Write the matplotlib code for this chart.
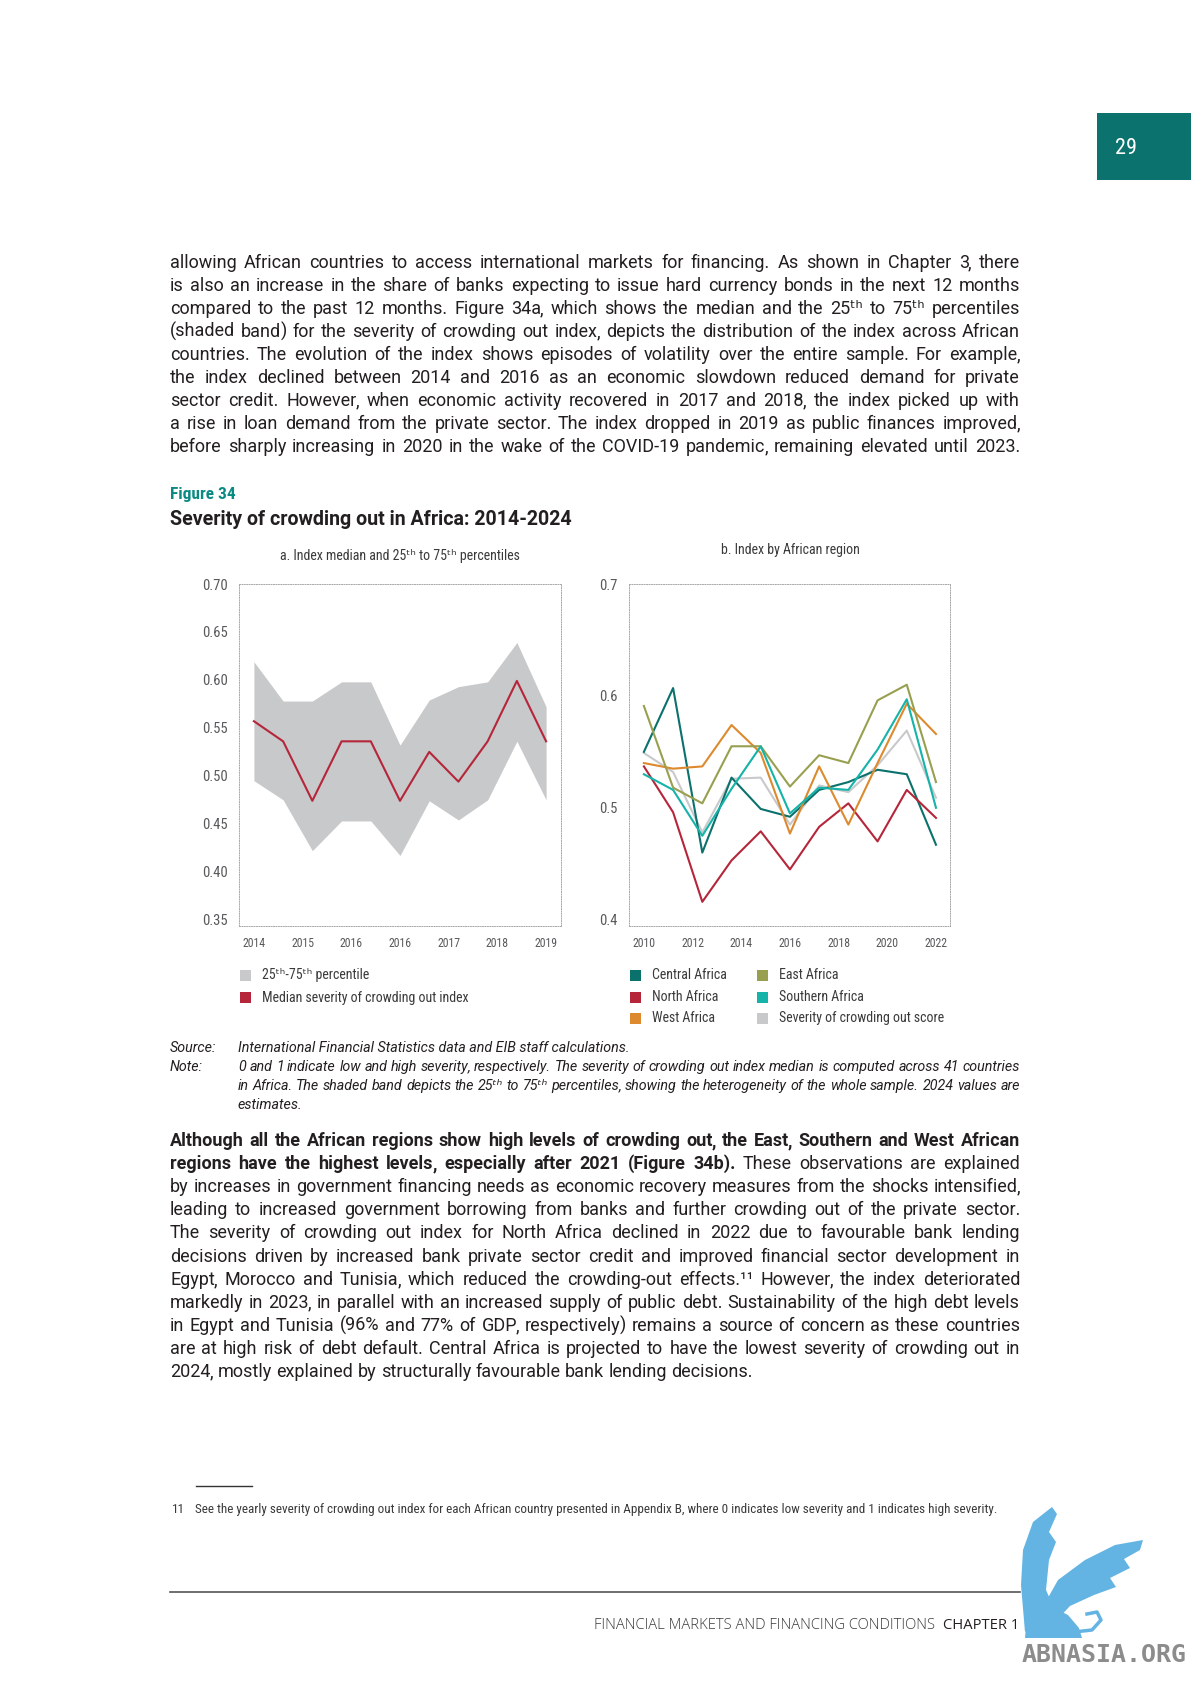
import matplotlib
matplotlib.use("Agg")
import matplotlib.pyplot as plt
from matplotlib import font_manager
from matplotlib.patches import Rectangle, Polygon
from matplotlib.lines import Line2D
import numpy as np

W, H = 1191, 1684

# ---- data, panel a (2014-2024, 11 yearly points) ----
pos_a = np.arange(11)
median = [0.557, 0.536, 0.474, 0.536, 0.536, 0.474, 0.525, 0.494, 0.536, 0.599, 0.536]
p75 = [0.619, 0.578, 0.578, 0.598, 0.598, 0.532, 0.579, 0.593, 0.598, 0.639, 0.572]
p25 = [0.495, 0.475, 0.422, 0.453, 0.453, 0.417, 0.474, 0.454, 0.475, 0.536, 0.475]
xlabels_a = ["2014", "2015", "2016", "2016", "2017", "2018", "2019"]
yticks_a = [0.35, 0.40, 0.45, 0.50, 0.55, 0.60, 0.65, 0.70]

# ---- data, panel b ----
pos_b = np.arange(11)
central = [0.550, 0.607, 0.460, 0.527, 0.499, 0.492, 0.516, 0.523, 0.534, 0.530, 0.467]
north = [0.537, 0.496, 0.416, 0.453, 0.479, 0.445, 0.483, 0.504, 0.470, 0.516, 0.491]
west = [0.540, 0.535, 0.537, 0.574, 0.549, 0.477, 0.537, 0.485, 0.540, 0.593, 0.566]
east = [0.591, 0.518, 0.504, 0.555, 0.555, 0.519, 0.547, 0.540, 0.596, 0.610, 0.523]
southern = [0.530, 0.516, 0.475, 0.517, 0.555, 0.495, 0.518, 0.516, 0.552, 0.597, 0.500]
score = [0.549, 0.532, 0.478, 0.526, 0.527, 0.485, 0.520, 0.514, 0.538, 0.569, 0.509]
xlabels_b = ["2010", "2012", "2014", "2016", "2018", "2020", "2022"]
yticks_b = [0.4, 0.5, 0.6, 0.7]

c_teal = "#0b716c"
c_red = "#b5263a"
c_orange = "#dd8a2e"
c_olive = "#98a04f"
c_turq = "#15b3a8"
c_grey = "#c8c9cb"
c_text = "#231f20"
c_axis = "#58595b"
c_chart = "#3a3a3a"
c_logo = "#63b4e3"

# pick fonts
names = {f.name for f in font_manager.fontManager.ttflist}
narrow = "Roboto"
for n in ["Roboto Condensed", "Liberation Sans Narrow", "Open Sans Condensed"]:
    if n in names:
        narrow = n
        break
NARROW = [narrow, "DejaVu Sans"]
BODY = ["Roboto", "DejaVu Sans"]
FOOT = ["Open Sans", "DejaVu Sans"]

fig = plt.figure(figsize=(W / 100, H / 100), dpi=100)
renderer = fig.canvas.get_renderer()


def fx(x):
    return x / W


def fy(y):
    return 1 - y / H


def put(x, y, s, **kw):
    return fig.text(fx(x), fy(y), s, **kw)


def width(t):
    return t.get_window_extent(renderer).width


def fit(s, target, **kw):
    t = put(0, 0, s, fontsize=10, **kw)
    w = width(t)
    t.remove()
    return 10 * target / w


def words(s, wt="normal"):
    return [(w, wt) for w in s.split()]


def space_w(size, **kw):
    a = put(0, 0, "x x", fontsize=size, **kw)
    b = put(0, 0, "xx", fontsize=size, **kw)
    d = width(a) - width(b)
    a.remove()
    b.remove()
    return d


def para_size(lines, target, **kw):
    sp = space_w(10, **kw)
    best = 100
    for line in lines:
        tot = 0
        for w, wt in line:
            t = put(0, 0, w, fontsize=10, fontweight=wt, **kw)
            tot += width(t)
            t.remove()
        tot += sp * (len(line) - 1)
        best = min(best, 10 * target / tot)
    return best * 0.995


def paragraph(lines, x0, x1, y0, dy, size, last_left=True, **kw):
    # one text per word (trailing comma / bracket kept apart so the
    # word itself sits on the baseline), spread to fill x0..x1
    sp = space_w(size, **kw)
    for i, line in enumerate(lines):
        units = []
        for w, wt in line:
            core = w.rstrip(",)") or w
            parts = [core] if core == w else [core, w[len(core):]]
            ts = [put(0, 0, p, fontsize=size, fontweight=wt, va="baseline", **kw) for p in parts]
            ws = [width(t) for t in ts]
            if len(ws) > 1:
                ws[0] -= 1.0
            units.append((ts, ws))
        total = sum(sum(ws) for ts, ws in units)
        if last_left and i == len(lines) - 1:
            gap = sp
        else:
            gap = (x1 - x0 - total) / max(len(units) - 1, 1)
        x = x0
        y = fy(round(y0 + i * dy))
        for ts, ws in units:
            for t, w in zip(ts, ws):
                t.set_position((fx(x), y))
                x += w
            x += gap


def rect(x0, y0, x1, y1, color):
    fig.add_artist(Rectangle((fx(x0), fy(y1)), (x1 - x0) / W, (y1 - y0) / H,
                             transform=fig.transFigure, color=color, lw=0))


def hline(x0, x1, y, color, lw):
    fig.add_artist(Line2D([fx(x0), fx(x1)], [fy(y), fy(y)], transform=fig.transFigure,
                          color=color, lw=lw))


def shape(pts, color):
    fig.add_artist(Polygon([(fx(a), fy(b)) for a, b in pts], closed=True,
                           transform=fig.transFigure, color=color, lw=0))


# ---- page number box ----
rect(1097, 113, 1191, 180, "#0b726d")
put(1126, 148, "29", fontsize=16, family=NARROW, color="white", ha="center", va="center")

# ---- first paragraph ----
para1 = [
    words("allowing African countries to access international markets for financing. As shown in Chapter 3, there"),
    words("is also an increase in the share of banks expecting to issue hard currency bonds in the next 12 months"),
    words("compared to the past 12 months. Figure 34a, which shows the median and the 25ᵗʰ to 75ᵗʰ percentiles"),
    words("(shaded band) for the severity of crowding out index, depicts the distribution of the index across African"),
    words("countries. The evolution of the index shows episodes of volatility over the entire sample. For example,"),
    words("the index declined between 2014 and 2016 as an economic slowdown reduced demand for private"),
    words("sector credit. However, when economic activity recovered in 2017 and 2018, the index picked up with"),
    words("a rise in loan demand from the private sector. The index dropped in 2019 as public finances improved,"),
    words("before sharply increasing in 2020 in the wake of the COVID-19 pandemic, remaining elevated until 2023."),
]
para2 = [
    words("Although all the African regions show high levels of crowding out, the East, Southern and West African", "bold"),
    words("regions have the highest levels, especially after 2021 (Figure 34b).", "bold") + words("These observations are explained"),
    words("by increases in government financing needs as economic recovery measures from the shocks intensified,"),
    words("leading to increased government borrowing from banks and further crowding out of the private sector."),
    words("The severity of crowding out index for North Africa declined in 2022 due to favourable bank lending"),
    words("decisions driven by increased bank private sector credit and improved financial sector development in"),
    words("Egypt, Morocco and Tunisia, which reduced the crowding-out effects.¹¹ However, the index deteriorated"),
    words("markedly in 2023, in parallel with an increased supply of public debt. Sustainability of the high debt levels"),
    words("in Egypt and Tunisia (96% and 77% of GDP, respectively) remains a source of concern as these countries"),
    words("are at high risk of debt default. Central Africa is projected to have the lowest severity of crowding out in"),
    words("2024, mostly explained by structurally favourable bank lending decisions."),
]
body_size = min(para_size(para1, 850, family=BODY), para_size(para2[:-1], 850, family=BODY))
paragraph(para1, 170, 1020, 268, 23, body_size, last_left=False, family=BODY, color=c_text)
paragraph(para2, 170, 1020, 1146, 23.1, body_size, family=BODY, color=c_text)

# ---- figure heading ----
put(170, 494, "Figure 34", fontsize=12.5, family=NARROW, fontweight="bold", color="#0b8a84", va="center")
put(170, 519, "Severity of crowding out in Africa: 2014-2024",
    fontsize=fit("Severity of crowding out in Africa: 2014-2024", 404, family=BODY, fontweight="bold"),
    family=BODY, fontweight="bold", color=c_text, va="center")

# ---- panels ----
ytick_size = 10.5
xtick_size = 8.5
leg_size = 10
title_size = 10

ax_a = fig.add_axes([fx(239), fy(926), (561 - 239) / W, (926 - 584) / H])
ax_b = fig.add_axes([fx(629), fy(926), (950 - 629) / W, (926 - 584) / H])

ax_a.fill_between(pos_a, p25, p75, color=c_grey, lw=0)
ax_a.plot(pos_a, median, color=c_red, lw=1.5)
ax_a.set_xlim(-0.51, 10.51)
ax_a.set_ylim(0.3435, 0.695)
ax_a.set_yticks(yticks_a)
ax_a.set_yticklabels(["%.2f" % v for v in yticks_a])
ax_a.set_xticks(np.linspace(0, 10, 7))
ax_a.set_xticklabels(xlabels_a)

ax_b.plot(pos_b, score, color=c_grey, lw=1.5)
ax_b.plot(pos_b, central, color=c_teal, lw=1.5)
ax_b.plot(pos_b, north, color=c_red, lw=1.5)
ax_b.plot(pos_b, west, color=c_orange, lw=1.5)
ax_b.plot(pos_b, east, color=c_olive, lw=1.5)
ax_b.plot(pos_b, southern, color=c_turq, lw=1.5)
ax_b.set_xlim(-0.51, 10.48)
ax_b.set_ylim(0.3944, 0.6956)
ax_b.set_yticks(yticks_b)
ax_b.set_yticklabels(["%.1f" % v for v in yticks_b])
ax_b.set_xticks(np.linspace(0, 10, 7))
ax_b.set_xticklabels(xlabels_b)

for ax in (ax_a, ax_b):
    for sp in ax.spines.values():
        sp.set_linestyle((0, (1, 1.5)))
        sp.set_color("#a8a8a8")
        sp.set_linewidth(0.7)
    ax.tick_params(length=0, colors=c_axis)
    ax.tick_params(axis="y", pad=8, labelsize=ytick_size)
    ax.tick_params(axis="x", pad=8, labelsize=xtick_size)
    for lab in ax.get_xticklabels() + ax.get_yticklabels():
        lab.set_family(NARROW)

put(400, 556, "a. Index median and 25ᵗʰ to 75ᵗʰ percentiles", fontsize=title_size,
    family=NARROW, color=c_chart, ha="center", va="center")
put(790, 550, "b. Index by African region", fontsize=title_size,
    family=NARROW, color=c_chart, ha="center", va="center")

# ---- legends ----
leg_a = [("25ᵗʰ-75ᵗʰ percentile", c_grey), ("Median severity of crowding out index", c_red)]
for i, (lab, col) in enumerate(leg_a):
    y = 975.5 + i * 22.5
    rect(240, y - 5.5, 251, y + 5.5, col)
    put(262, y, lab, fontsize=leg_size, family=NARROW, color=c_chart, va="center")

leg_b = [("Central Africa", c_teal), ("North Africa", c_red), ("West Africa", c_orange),
         ("East Africa", c_olive), ("Southern Africa", c_turq), ("Severity of crowding out score", c_grey)]
rows_b = [975, 997, 1018]
for i, (lab, col) in enumerate(leg_b):
    y = rows_b[i % 3]
    x = 630 if i < 3 else 757
    rect(x, y - 5.5, x + 11, y + 5.5, col)
    put(x + 22, y, lab, fontsize=leg_size, family=NARROW, color=c_chart, va="center")

# ---- source and note ----
note_lines = [
    words("0 and 1 indicate low and high severity, respectively. The severity of crowding out index median is computed across 41 countries"),
    words("in Africa. The shaded band depicts the 25ᵗʰ to 75ᵗʰ percentiles, showing the heterogeneity of the whole sample. 2024 values are"),
    words("estimates."),
]
note_size = para_size(note_lines[:-1], 782, family=BODY, fontstyle="italic")
put(170, 1052, "Source:", fontsize=note_size, family=BODY, fontstyle="italic", color=c_text, va="baseline")
put(238, 1052, "International Financial Statistics data and EIB staff calculations.", fontsize=note_size,
    family=BODY, fontstyle="italic", color=c_text, va="baseline")
put(170, 1071, "Note:", fontsize=note_size, family=BODY, fontstyle="italic", color=c_text, va="baseline")
paragraph(note_lines, 238, 1020, 1071, 19, note_size, family=BODY, fontstyle="italic", color=c_text)

# ---- footnote ----
hline(196, 252, 1486, "#333333", 1.0)
fn = "See the yearly severity of crowding out index for each African country presented in Appendix B, where 0 indicates low severity and 1 indicates high severity."
fn_size = fit(fn, 794, family=NARROW)
put(172, 1513, "11", fontsize=fn_size, family=NARROW, color=c_chart, va="baseline")
put(195, 1513, fn, fontsize=fn_size, family=NARROW, color=c_chart, va="baseline")

# ---- footer ----
hline(170, 1020, 1592, "#555555", 1.2)
ft = "FINANCIAL MARKETS AND FINANCING CONDITIONS"
ft_size = fit(ft, 342, family=FOOT, fontweight="light")
put(1019, 1629, "CHAPTER 1", fontsize=ft_size, family=FOOT, color=c_text, ha="right", va="baseline")
put(935, 1629, ft, fontsize=ft_size, family=FOOT, fontweight="light", color=c_chart, ha="right", va="baseline")

# ---- watermark: rough griffin outline and site name ----
shape([(1025, 1632), (1021, 1585), (1023, 1550), (1033, 1522), (1052, 1507), (1057, 1514),
       (1049, 1532), (1056, 1542), (1049, 1560), (1046, 1590), (1041, 1618)], c_logo)
shape([(1040, 1612), (1058, 1580), (1085, 1560), (1115, 1545), (1143, 1540), (1140, 1550),
       (1124, 1559), (1130, 1568), (1110, 1578), (1116, 1587), (1094, 1595), (1070, 1606),
       (1055, 1622)], c_logo)
shape([(1025, 1638), (1028, 1603), (1036, 1588), (1046, 1590), (1054, 1608), (1068, 1615),
       (1079, 1628), (1082, 1638)], c_logo)
fig.add_artist(Line2D([fx(1074), fx(1092), fx(1101), fx(1097), fx(1087)],
                      [fy(1632), fy(1630), fy(1620), fy(1612), fy(1614)],
                      transform=fig.transFigure, color=c_logo, lw=2.5))
put(1104, 1655, "ABNASIA.ORG", fontsize=fit("ABNASIA.ORG", 165, family="DejaVu Sans Mono", fontweight="bold"),
    family="DejaVu Sans Mono", fontweight="bold", color="#8c8c8c", ha="center", va="center")

fig.savefig("out.png", dpi=100)
